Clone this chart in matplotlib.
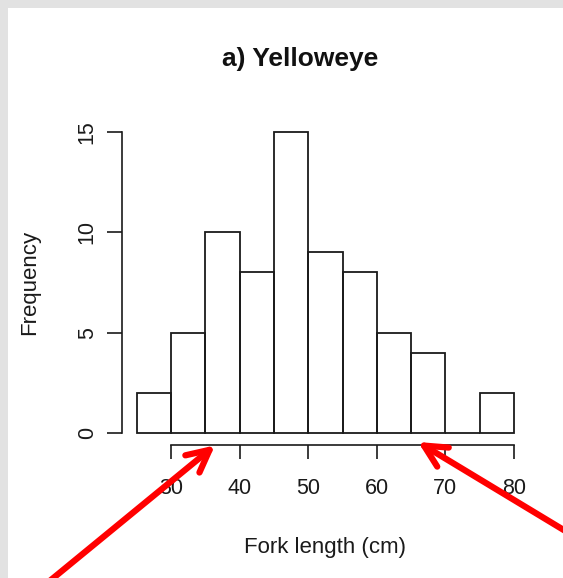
import matplotlib
matplotlib.use("Agg")
import matplotlib.pyplot as plt
from matplotlib.patches import Rectangle

plt.rcParams["font.family"] = ["Liberation Sans", "DejaVu Sans"]

# ── 데이터 ──────────────────────────────────────────────────────────────
bin_edges = [25, 30, 35, 40, 45, 50, 55, 60, 65, 70, 75, 80]
counts = [2, 5, 10, 8, 15, 9, 8, 5, 4, 0, 2]
x_ticks = [30, 40, 50, 60, 70, 80]
y_ticks = [0, 5, 10, 15]

# red arrow tips (data coords) and tails (figure pixels, from bottom-left)
arrow_tips = [(36.4, -0.62), (66.0, -0.45)]
arrow_tails = [(46, -6), (572, 43)]

W, H = 563, 578
fig = plt.figure(figsize=(W / 100, H / 100), dpi=100)
fig.patch.set_facecolor("white")

# gray frame at top/left of the screenshot
fig.patches.append(Rectangle((0, 1 - 8 / H), 1, 8 / H, transform=fig.transFigure,
                             facecolor="#e2e2e2", edgecolor="none", zorder=0))
fig.patches.append(Rectangle((0, 0), 8 / W, 1, transform=fig.transFigure,
                             facecolor="#e2e2e2", edgecolor="none", zorder=0))

# plot region in pixels (R usr = data range +4%)
left_px, right_px, top_px, bot_px = 121.7, 529.1, 120.0, 445.0
ax = fig.add_axes([left_px / W, 1 - bot_px / H, (right_px - left_px) / W, (bot_px - top_px) / H])
ax.set_facecolor("none")

widths = [b - a for a, b in zip(bin_edges[:-1], bin_edges[1:])]
ax.bar(bin_edges[:-1], counts, width=widths, align="edge", fill=False,
       edgecolor="#1a1a1a", linewidth=1.3)

xr = bin_edges[-1] - bin_edges[0]
ax.set_xlim(bin_edges[0] - 0.04 * xr, bin_edges[-1] + 0.04 * xr)
ax.set_ylim(-0.04 * max(counts), max(counts) * 1.04)

for s in ("top", "right"):
    ax.spines[s].set_visible(False)
ax.spines["left"].set_bounds(y_ticks[0], y_ticks[-1])
ax.spines["bottom"].set_bounds(x_ticks[0], x_ticks[-1])
for s in ("left", "bottom"):
    ax.spines[s].set_linewidth(1.2)
    ax.spines[s].set_color("#1a1a1a")

ax.set_xticks(x_ticks)
ax.set_yticks(y_ticks)
ax.tick_params(axis="x", length=10, width=1.2, pad=14, labelsize=15.5, colors="#1a1a1a")
ax.tick_params(axis="y", length=10.8, width=1.2, pad=6.5, labelsize=15.5, colors="#1a1a1a")
for lbl in ax.get_yticklabels():
    lbl.set_rotation(90)
    lbl.set_va("center")

ax.set_xlabel("Fork length (cm)", fontsize=16, color="#1a1a1a", va="baseline")
ax.xaxis.set_label_coords(0.5, -(553 - bot_px) / (bot_px - top_px))
ax.set_ylabel("Frequency", fontsize=16, color="#1a1a1a", va="baseline")
ax.yaxis.set_label_coords(-(left_px - 35) / (right_px - left_px), 0.5)

ax.set_title("a) Yelloweye", fontsize=19, fontweight="bold", color="#111111",
             x=(300.5 - left_px) / (right_px - left_px),
             y=(bot_px - 74.3) / (bot_px - top_px), va="baseline")

for tip, tail in zip(arrow_tips, arrow_tails):
    ax.annotate("", xy=tip, xycoords="data", xytext=tail, textcoords="figure pixels",
                arrowprops=dict(arrowstyle="->,head_length=16,head_width=8",
                                mutation_scale=1, color="#ff0000", lw=4.5,
                                shrinkA=0, shrinkB=0, capstyle="round",
                                joinstyle="round"),
                annotation_clip=False, zorder=10)

fig.savefig("out.png", dpi=100, facecolor=fig.get_facecolor())
